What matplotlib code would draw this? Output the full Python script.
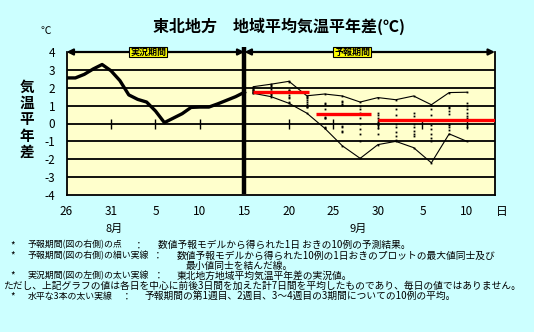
import numpy as np
import matplotlib
matplotlib.use("Agg")
import matplotlib.pyplot as plt

plt.rcParams['font.family'] = ['Noto Sans CJK JP', 'DejaVu Sans']
plt.rcParams['axes.unicode_minus'] = False

# day index 0 = 7/26, observed until day 20 (8/15)
obs_days = np.arange(0, 21)
obs_vals = [2.55, 2.55, 2.75, 3.05, 3.3, 2.95, 2.4, 1.6, 1.35, 1.2, 0.7,
            0.05, 0.3, 0.55, 0.9, 0.92, 0.92, 1.1, 1.3, 1.5, 1.75]

# forecast: 10 members every other day
fc_days = [21, 23, 25, 27, 29, 31, 33, 35, 37, 39, 41, 43, 45]
fc_members = [
    [2.06, 2.0, 1.95, 1.9, 1.85, 1.8, 1.78, 1.75, 1.72, 1.69],
    [2.2, 2.15, 2.1, 1.95, 1.8, 1.75, 1.7, 1.65, 1.6, 1.5],
    [2.36, 2.3, 1.9, 1.85, 1.8, 1.6, 1.5, 1.4, 1.2, 1.13],
    [1.55, 1.5, 1.45, 1.3, 1.2, 1.1, 1.0, 0.95, 0.9, 0.58],
    [1.65, 1.15, 1.1, 0.8, 0.35, 0.3, 0.28, -0.2, -0.25, -0.26],
    [1.54, 1.25, 1.2, 1.1, 1.05, -0.15, -0.2, -0.4, -0.45, -1.25],
    [1.2, 1.0, 0.8, 0.6, 0.3, 0.0, -0.3, -0.6, -1.0, -1.95],
    [1.45, 0.6, 0.45, 0.3, 0.1, 0.0, -0.1, -0.25, -0.6, -1.18],
    [1.33, 0.8, 0.5, 0.2, 0.0, -0.2, -0.5, -0.7, -0.9, -1.0],
    [1.54, 0.6, 0.4, 0.2, 0.0, -0.2, -0.4, -0.6, -0.7, -1.35],
    [1.05, 0.8, 0.5, 0.2, -0.1, -0.3, -0.6, -0.8, -1.0, -2.2],
    [1.73, 0.95, 0.85, 0.7, 0.55, 0.0, -0.1, -0.2, -0.35, -0.58],
    [1.75, 1.15, 1.0, 0.8, 0.6, 0.4, 0.3, 0.0, -0.2, -1.0],
]

# weekly means (start day, end day, value)
week_start = [21, 28, 35]
week_end = [27.2, 34.2, 48.2]
week_vals = [1.78, 0.52, 0.2]

tick_days = np.arange(0, 46, 5)
tick_labels = ['26', '31', '5', '10', '15', '20', '25', '30', '5', '10']
month_labels = ['8月', '9月']
month_days = [5.4, 32.8]

notes = [
    ('*', '予報期間(図の右側)の点', '：', '数値予報モデルから得られた1日 おきの10例の予測結果。', 134, 158),
    ('*', '予報期間(図の右側)の細い実線', '：', '数値予報モデルから得られた10例の1日おきのプロットの最大値同士及び', 153, 177),
    ('*', '実況期間(図の左側)の太い実線', '：', '東北地方地域平均気温平年差の実況値。', 154, 177),
    ('*', '水平な3本の太い実線', '：', '予報期間の第1週目、2週目、3～4週目の3期間についての10例の平均。', 122, 145),
]

fig = plt.figure(figsize=(5.34, 3.32), dpi=100, facecolor='#CCFFFF')
ax = fig.add_axes([66.5/534, 1-195/332, 428.5/534, 143/332])
ax.set_facecolor('#FFFFCC')
ax.set_xlim(0, 48.15)
ax.set_ylim(-4, 4)

for v in range(-3, 4):
    ax.axhline(v, color='k', lw=1.3, zorder=1)
for s in ax.spines.values():
    s.set_linewidth(1.3)
ax.spines['top'].set_visible(False)

# tick marks crossing the zero line
ax.plot(tick_days[1:], np.zeros(len(tick_days)-1), ls='none', marker='|',
        ms=7, mew=1, color='k', zorder=2)

# forecast members and max/min lines
fc_arr = np.array(fc_members)
for d, m in zip(fc_days, fc_members):
    ax.plot([d]*len(m), m, ls='none', marker='s', ms=1.3, mew=0, color='k', zorder=3)
ax.plot(fc_days, fc_arr.max(axis=1), color='k', lw=0.8, zorder=3)
ax.plot(fc_days, fc_arr.min(axis=1), color='k', lw=0.8, zorder=3)

# weekly averages
for a, b, v in zip(week_start, week_end, week_vals):
    ax.plot([a, b], [v, v], color='#FF0000', lw=2.4, zorder=4, solid_capstyle='butt')

# observed
ax.plot(obs_days, obs_vals, color='k', lw=2.4, zorder=5)

# boundary line
ax.plot([20, 20], [-3.95, 4.3], color='k', lw=3.2, zorder=6, clip_on=False,
        solid_capstyle='butt')

# period arrows
arr = dict(arrowstyle='<|-|>', color='k', lw=1.6, mutation_scale=9, shrinkA=0, shrinkB=0)
ax.annotate('', xy=(0, 4), xytext=(20, 4), arrowprops=arr, annotation_clip=False, zorder=7)
ax.annotate('', xy=(20, 4), xytext=(48.15, 4), arrowprops=arr, annotation_clip=False, zorder=7)
box = dict(boxstyle='square,pad=0.1', fc='#FFFF00', ec='k', lw=0.8)
ax.text(9.2, 4, '実況期間', fontsize=6.5, fontweight='bold', ha='center', va='center',
        bbox=box, zorder=8)
ax.text(32.1, 4, '予報期間', fontsize=6.5, fontweight='bold', ha='center', va='center',
        bbox=box, zorder=8)

ax.set_yticks(range(-4, 5))
ax.set_xticks(tick_days)
ax.set_xticklabels(tick_labels)
ax.tick_params(axis='both', length=0, labelsize=8.5)
ax.tick_params(axis='y', pad=8)
ax.tick_params(axis='x', pad=7)

tr = ax.get_xaxis_transform()
for d, lab in zip(month_days, month_labels):
    ax.text(d, -0.235, lab, transform=tr, fontsize=8, ha='center', va='center')
ax.text(48.9, -0.112, '日', transform=tr, fontsize=8.5, ha='center', va='center')

fig.text(279/534, 1-26.6/332, '東北地方　地域平均気温平年差(℃)', fontsize=11.5,
         fontweight='bold', ha='center', va='center')
fig.text(46/534, 1-30.7/332, '℃', fontsize=7.5, ha='center', va='center')
for i, ch in enumerate('気温平年差'):
    fig.text(26.7/534, 1-(86.7+16.3*i)/332, ch, fontsize=10.5, fontweight='bold',
             ha='center', va='center')

# notes below
line_y = [245.1, 255.4, 275.8, 296.3]
for (star, head, colon, body, cx, bx), y in zip(notes, line_y):
    fy = 1 - y/332
    fig.text(10/534, fy, star, fontsize=7, ha='left', va='center')
    fig.text(27.3/534, fy, head, fontsize=6.4, ha='left', va='center')
    fig.text(cx/534, fy, colon, fontsize=7, ha='left', va='center')
    fig.text(bx/534, fy, body, fontsize=7, ha='left', va='center')
fig.text(186/534, 1-265.6/332, '最小値同士を結んだ線。', fontsize=7, ha='left', va='center')
fig.text(2.7/534, 1-286/332,
         'ただし、上記グラフの値は各日を中心に前後3日間を加えた計7日間を平均したものであり、毎日の値ではありません。',
         fontsize=7, ha='left', va='center')

fig.savefig('out.png', dpi=100, facecolor=fig.get_facecolor())
